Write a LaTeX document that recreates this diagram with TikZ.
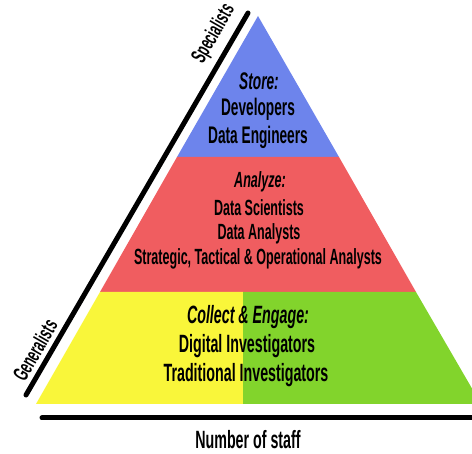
\documentclass[tikz,border=0pt]{standalone}
\usepackage{fontspec}
\newfontfamily\osw[FakeStretch=0.57,UprightFont=* Bold,ItalicFont=* Bold Italic]{Liberation Sans}
\definecolor{cblue}{HTML}{6D84EC}
\definecolor{cred}{HTML}{F05D60}
\definecolor{cyellow}{HTML}{F9F63A}
\definecolor{cgreen}{HTML}{82D42C}
\tikzset{
  lbl/.style={font=\osw\fontsize{22}{24}\selectfont, inner sep=0pt, anchor=center},
  lblS/.style={lbl, font=\osw\fontsize{24}{26}\selectfont},
  itaS/.style={lbl, font=\osw\fontsize{24}{26}\selectfont\itshape},
  ital/.style={lbl, font=\osw\fontsize{22}{24}\selectfont\itshape},
  lblC/.style={lbl, font=\osw\fontsize{25}{27}\selectfont},
  itaC/.style={lbl, font=\osw\fontsize{25}{27}\selectfont\itshape},
  side/.style={font=\osw\fontsize{21.5}{23}\selectfont, inner sep=0pt, rotate=60},
  axis/.style={line width=5pt, line cap=round, black}
}
\begin{document}
\begin{tikzpicture}[x=1pt,y=-1pt]
\useasboundingbox (0,0) rectangle (472,454);
\clip (0,0) rectangle (472,454);
% layers
\fill[cblue] (258,16) -- (177,157) -- (339,157) -- cycle;
\fill[cred] (177,157) -- (100,292) -- (416,292) -- (339,157) -- cycle;
\fill[cyellow] (100,292) -- (36,404) -- (243,404) -- (243,292) -- cycle;
\fill[cgreen] (243,292) -- (243,404) -- (481,404) -- (416,292) -- cycle;
% axes
\coordinate (dl) at (26,395);
\coordinate (dt) at (248,13);
\coordinate (hl) at (42,418);
\coordinate (hr) at (480,418);
\draw[axis] (dl) -- (dt);
\draw[axis] (hl) -- (hr);
% texts
\node[itaS] (s0) at (259,81) {Store:};
\node[lblS] (s1) at (258,109) {Developers};
\node[lblS] (s2) at (258,137) {Data Engineers};
\node[ital] (a0) at (260,182) {Analyze:};
\node[lbl] (a1) at (259,208) {Data Scientists};
\node[lbl] (a2) at (259,234) {Data Analysts};
\node[lbl] (a3) at (258,259) {Strategic, Tactical \& Operational Analysts};
\node[itaC] (c0) at (248,317) {Collect \& Engage:};
\node[lblC] (c1) at (247,346) {Digital Investigators};
\node[lblC] (c2) at (246,375) {Traditional Investigators};
\node[lbl, font=\osw\fontsize{25}{27}\selectfont] (ns) at (248,440) {Number of staff};
\node[side] (sp) at (214,34) {Specialists};
\node[side] (gn) at (35,350) {Generalists};
\end{tikzpicture}
\end{document}
